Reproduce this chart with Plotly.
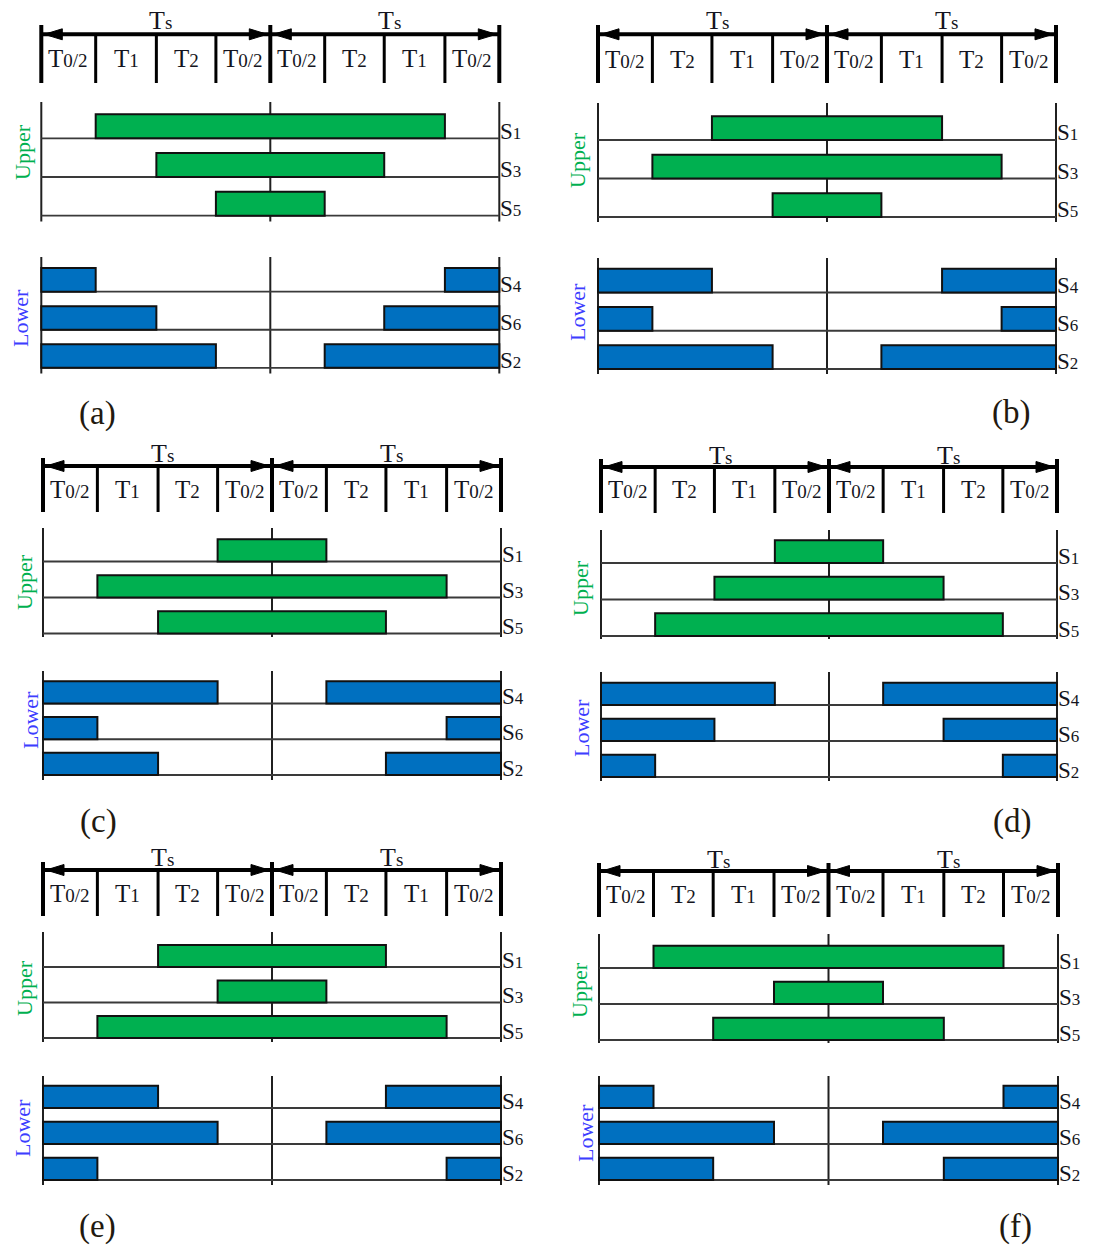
import plotly.graph_objects as go

W, H = 1094, 1249

# ---- switching-time data (fractions of the switching period) ----
T0 = 0.475          # zero-vector time (split as T0/2 at each end)
T1 = 0.265          # first active vector
T2 = 0.26           # second active vector
TS = T0 + T1 + T2   # switching period

PANELS = ["a", "b", "c", "d", "e", "f"]
# active-vector order in the first half period (mirrored in the second)
FIRST_HALF = {
    "a": ["T1", "T2"], "b": ["T2", "T1"], "c": ["T1", "T2"],
    "d": ["T2", "T1"], "e": ["T1", "T2"], "f": ["T2", "T1"],
}
UPPER_SWITCHES = ["S1", "S3", "S5"]
LOWER_SWITCHES = ["S4", "S6", "S2"]   # complementary to S1, S3, S5
# turn-on rank of S1, S3, S5 (0 = turns on first)
TURN_ON_RANK = {
    "a": [0, 1, 2], "b": [1, 0, 2], "c": [2, 0, 1],
    "d": [2, 1, 0], "e": [1, 2, 0], "f": [0, 2, 1],
}

DUR = {"T0/2": T0 / 2, "T1": T1, "T2": T2}

# ---- page geometry of each diagram (pixels) ----
GEOM = {
    "a": dict(xl=41.3, xr=499.3, hdr=(25, 83), arrow=34.3, seg_y=58, ts_y=20,
              up=(102, 221.5), up_base=(138.3, 215.7), lo=(257, 373.5), lo_base=(291.7, 367.8),
              tag=(97, 413), upper_lbl=(22, 152), lower_lbl=(20, 318)),
    "b": dict(xl=598, xr=1056, hdr=(25, 83), arrow=34.3, seg_y=59, ts_y=21,
              up=(103, 222), up_base=(140, 217), lo=(258, 374), lo_base=(292.5, 369),
              tag=(1011, 412), upper_lbl=(577, 160), lower_lbl=(578, 312)),
    "c": dict(xl=43, xr=501, hdr=(458, 512), arrow=466, seg_y=489, ts_y=453,
              up=(528, 637), up_base=(561.5, 633.5), lo=(671, 780), lo_base=(703.5, 775),
              tag=(98, 822), upper_lbl=(25, 582), lower_lbl=(30, 720)),
    "d": dict(xl=601, xr=1057, hdr=(459, 513), arrow=467, seg_y=490, ts_y=455,
              up=(530, 639), up_base=(563, 636), lo=(672, 781), lo_base=(705, 777),
              tag=(1012, 822), upper_lbl=(580, 588), lower_lbl=(582, 728)),
    "e": dict(xl=43, xr=501, hdr=(862, 916), arrow=870, seg_y=893, ts_y=857,
              up=(932, 1042), up_base=(967, 1038), lo=(1076, 1185), lo_base=(1108, 1180),
              tag=(97, 1226), upper_lbl=(24, 988), lower_lbl=(22, 1128)),
    "f": dict(xl=599, xr=1058, hdr=(863, 917), arrow=871, seg_y=894, ts_y=859,
              up=(934, 1043), up_base=(968, 1040), lo=(1076, 1185), lo_base=(1108, 1180),
              tag=(1015, 1226), upper_lbl=(580, 990), lower_lbl=(585, 1133)),
}

GREEN = "#00b050"
BLUE = "#0070c0"
INK = "#141420"
FONT = "Liberation Serif"
BAR_H = 0.62
XPAD = 0.03


def t_label(name, small):
    sub = "0/2" if name == "T0/2" else name[1:]
    return f"T<span style='font-size:{small}px'>{sub}</span>"


def s_label(name):
    return f"S<span style='font-size:17px'>{name[1:]}</span>"


def paper_note(x_px, y_px, text, size, color, angle=0):
    return dict(xref="paper", yref="paper", x=x_px / W, y=1 - y_px / H,
                xanchor="center", yanchor="middle", text=text, textangle=angle,
                showarrow=False, font=dict(family=FONT, size=size, color=color))


fig = go.Figure()
shapes, annotations = [], []
layout_axes = {}

for i, p in enumerate(PANELS):
    g = GEOM[p]
    xn = "" if i == 0 else str(i + 1)
    xa = f"x{xn}"
    yh, yu, yl = 3 * i + 1, 3 * i + 2, 3 * i + 3
    ya = {k: ("y" if n == 1 else f"y{n}") for k, n in (("h", yh), ("u", yu), ("l", yl))}

    ppu = (g["xr"] - g["xl"]) / (2 * TS)
    layout_axes[f"xaxis{xn}"] = dict(
        domain=[(g["xl"] - XPAD * ppu) / W, (g["xr"] + XPAD * ppu) / W],
        range=[-XPAD, 2 * TS + XPAD], visible=False, anchor=ya["u"], fixedrange=True)

    # header axis in pixel offsets from the header top
    h_top, h_bot = g["hdr"]
    hh = h_bot - h_top
    layout_axes[f"yaxis{'' if yh == 1 else yh}"] = dict(
        domain=[1 - h_bot / H, 1 - h_top / H], range=[hh, 0], visible=False,
        anchor=xa, fixedrange=True)

    def row_axis(top_bot, base):
        b1, b3 = base
        sp = (b3 - b1) / 2
        v = lambda px: 1 + (px - b1) / sp
        return dict(domain=[1 - top_bot[1] / H, 1 - top_bot[0] / H],
                    range=[v(top_bot[1]), v(top_bot[0])], visible=False,
                    anchor=xa, fixedrange=True)

    layout_axes[f"yaxis{yu}"] = row_axis(g["up"], g["up_base"])
    layout_axes[f"yaxis{yl}"] = row_axis(g["lo"], g["lo_base"])

    # placeholder trace so the header subplot exists
    fig.add_trace(go.Scatter(x=[0], y=[0], xaxis=xa, yaxis=ya["h"], mode="markers",
                             marker=dict(opacity=0), hoverinfo="skip", showlegend=False))

    # switching instants
    order = FIRST_HALF[p]
    seg_names = ["T0/2"] + order + ["T0/2"] + ["T0/2"] + order[::-1] + ["T0/2"]
    edges = [0.0]
    for s in seg_names:
        edges.append(edges[-1] + DUR[s])
    on_levels = [T0 / 2, T0 / 2 + DUR[order[0]], T0 / 2 + DUR[order[0]] + DUR[order[1]]]

    ups_y, ups_base, ups_len = [], [], []
    lo_y, lo_base, lo_len = [], [], []
    for k, (su, sl) in enumerate(zip(UPPER_SWITCHES, LOWER_SWITCHES)):
        t_on = on_levels[TURN_ON_RANK[p][k]]
        t_off = 2 * TS - t_on
        row = k + 1
        ups_y.append(row - BAR_H / 2); ups_base.append(t_on); ups_len.append(t_off - t_on)
        lo_y += [row - BAR_H / 2] * 2
        lo_base += [0.0, t_off]
        lo_len += [t_on, 2 * TS - t_off]

    fig.add_trace(go.Bar(orientation="h", y=ups_y, x=ups_len, base=ups_base, width=BAR_H,
                         xaxis=xa, yaxis=ya["u"], marker=dict(color=GREEN, line=dict(color="#111", width=2)),
                         hoverinfo="skip", showlegend=False))
    fig.add_trace(go.Bar(orientation="h", y=lo_y, x=lo_len, base=lo_base, width=BAR_H,
                         xaxis=xa, yaxis=ya["l"], marker=dict(color=BLUE, line=dict(color="#111", width=2)),
                         hoverinfo="skip", showlegend=False))

    # frame lines of the upper and lower groups
    for key in ("u", "l"):
        for xv in (0, TS, 2 * TS):
            shapes.append(dict(type="line", xref=xa, yref=f"{ya[key]} domain", x0=xv, x1=xv,
                               y0=0, y1=1, line=dict(color="#202020", width=2), layer="below"))
        for row in (1, 2, 3):
            shapes.append(dict(type="line", xref=xa, yref=ya[key], x0=0, x1=2 * TS, y0=row, y1=row,
                               line=dict(color="#3a3a3a", width=1.8), layer="below"))

    # header: period arrows and interval ticks
    ay = g["arrow"] - h_top
    shapes.append(dict(type="line", xref=xa, yref=ya["h"], x0=0, x1=2 * TS, y0=ay, y1=ay,
                       line=dict(color="black", width=4)))
    for xv in (0, TS, 2 * TS):
        shapes.append(dict(type="line", xref=xa, yref=ya["h"], x0=xv, x1=xv, y0=0, y1=hh,
                           line=dict(color="black", width=4)))
    for j, xv in enumerate(edges[1:-1]):
        if j == 3:
            continue
        shapes.append(dict(type="line", xref=xa, yref=ya["h"], x0=xv, x1=xv, y0=ay, y1=hh,
                           line=dict(color="black", width=3)))
    for xv, d in ((0, 1), (TS, -1), (TS, 1), (2 * TS, -1)):
        shapes.append(dict(type="path", xref=xa, yref=ya["h"], xsizemode="pixel", ysizemode="pixel",
                           xanchor=xv, yanchor=ay,
                           path=f"M {3 * d},0 L {21 * d},-5.5 L {21 * d},5.5 Z",
                           fillcolor="black", line=dict(color="black", width=1)))

    # period labels above the arrows
    for frac in (0.25, 0.75):
        x_px = g["xl"] + frac * (g["xr"] - g["xl"]) + 5
        annotations.append(paper_note(x_px, g["ts_y"], "T<span style='font-size:19px'>s</span>",
                                      26, INK))
    for s, a0, a1 in zip(seg_names, edges[:-1], edges[1:]):
        annotations.append(dict(xref=xa, yref=ya["h"], x=(a0 + a1) / 2, y=g["seg_y"] - h_top,
                                showarrow=False, text=t_label(s, 19),
                                font=dict(family=FONT, size=25, color=INK)))

    for key, names in (("u", UPPER_SWITCHES), ("l", LOWER_SWITCHES)):
        for row, nm in enumerate(names, start=1):
            annotations.append(dict(xref=xa, yref=ya[key], x=2 * TS, y=row, xanchor="left",
                                    yanchor="middle", yshift=7, xshift=-1, showarrow=False,
                                    text=s_label(nm), font=dict(family=FONT, size=23, color=INK)))

    annotations.append(paper_note(*g["upper_lbl"], "Upper", 22, GREEN, -90))
    annotations.append(paper_note(*g["lower_lbl"], "Lower", 22, "#3d3dff", -90))
    annotations.append(paper_note(*g["tag"], f"({p})", 33, "#22190f"))

fig.update_layout(
    width=W, height=H, autosize=False,
    margin=dict(l=0, r=0, t=0, b=0),
    paper_bgcolor="white", plot_bgcolor="rgba(0,0,0,0)",
    barmode="overlay", showlegend=False,
    shapes=shapes, annotations=annotations,
    **layout_axes,
)

fig.write_html("out.html", config={"displayModeBar": False})
